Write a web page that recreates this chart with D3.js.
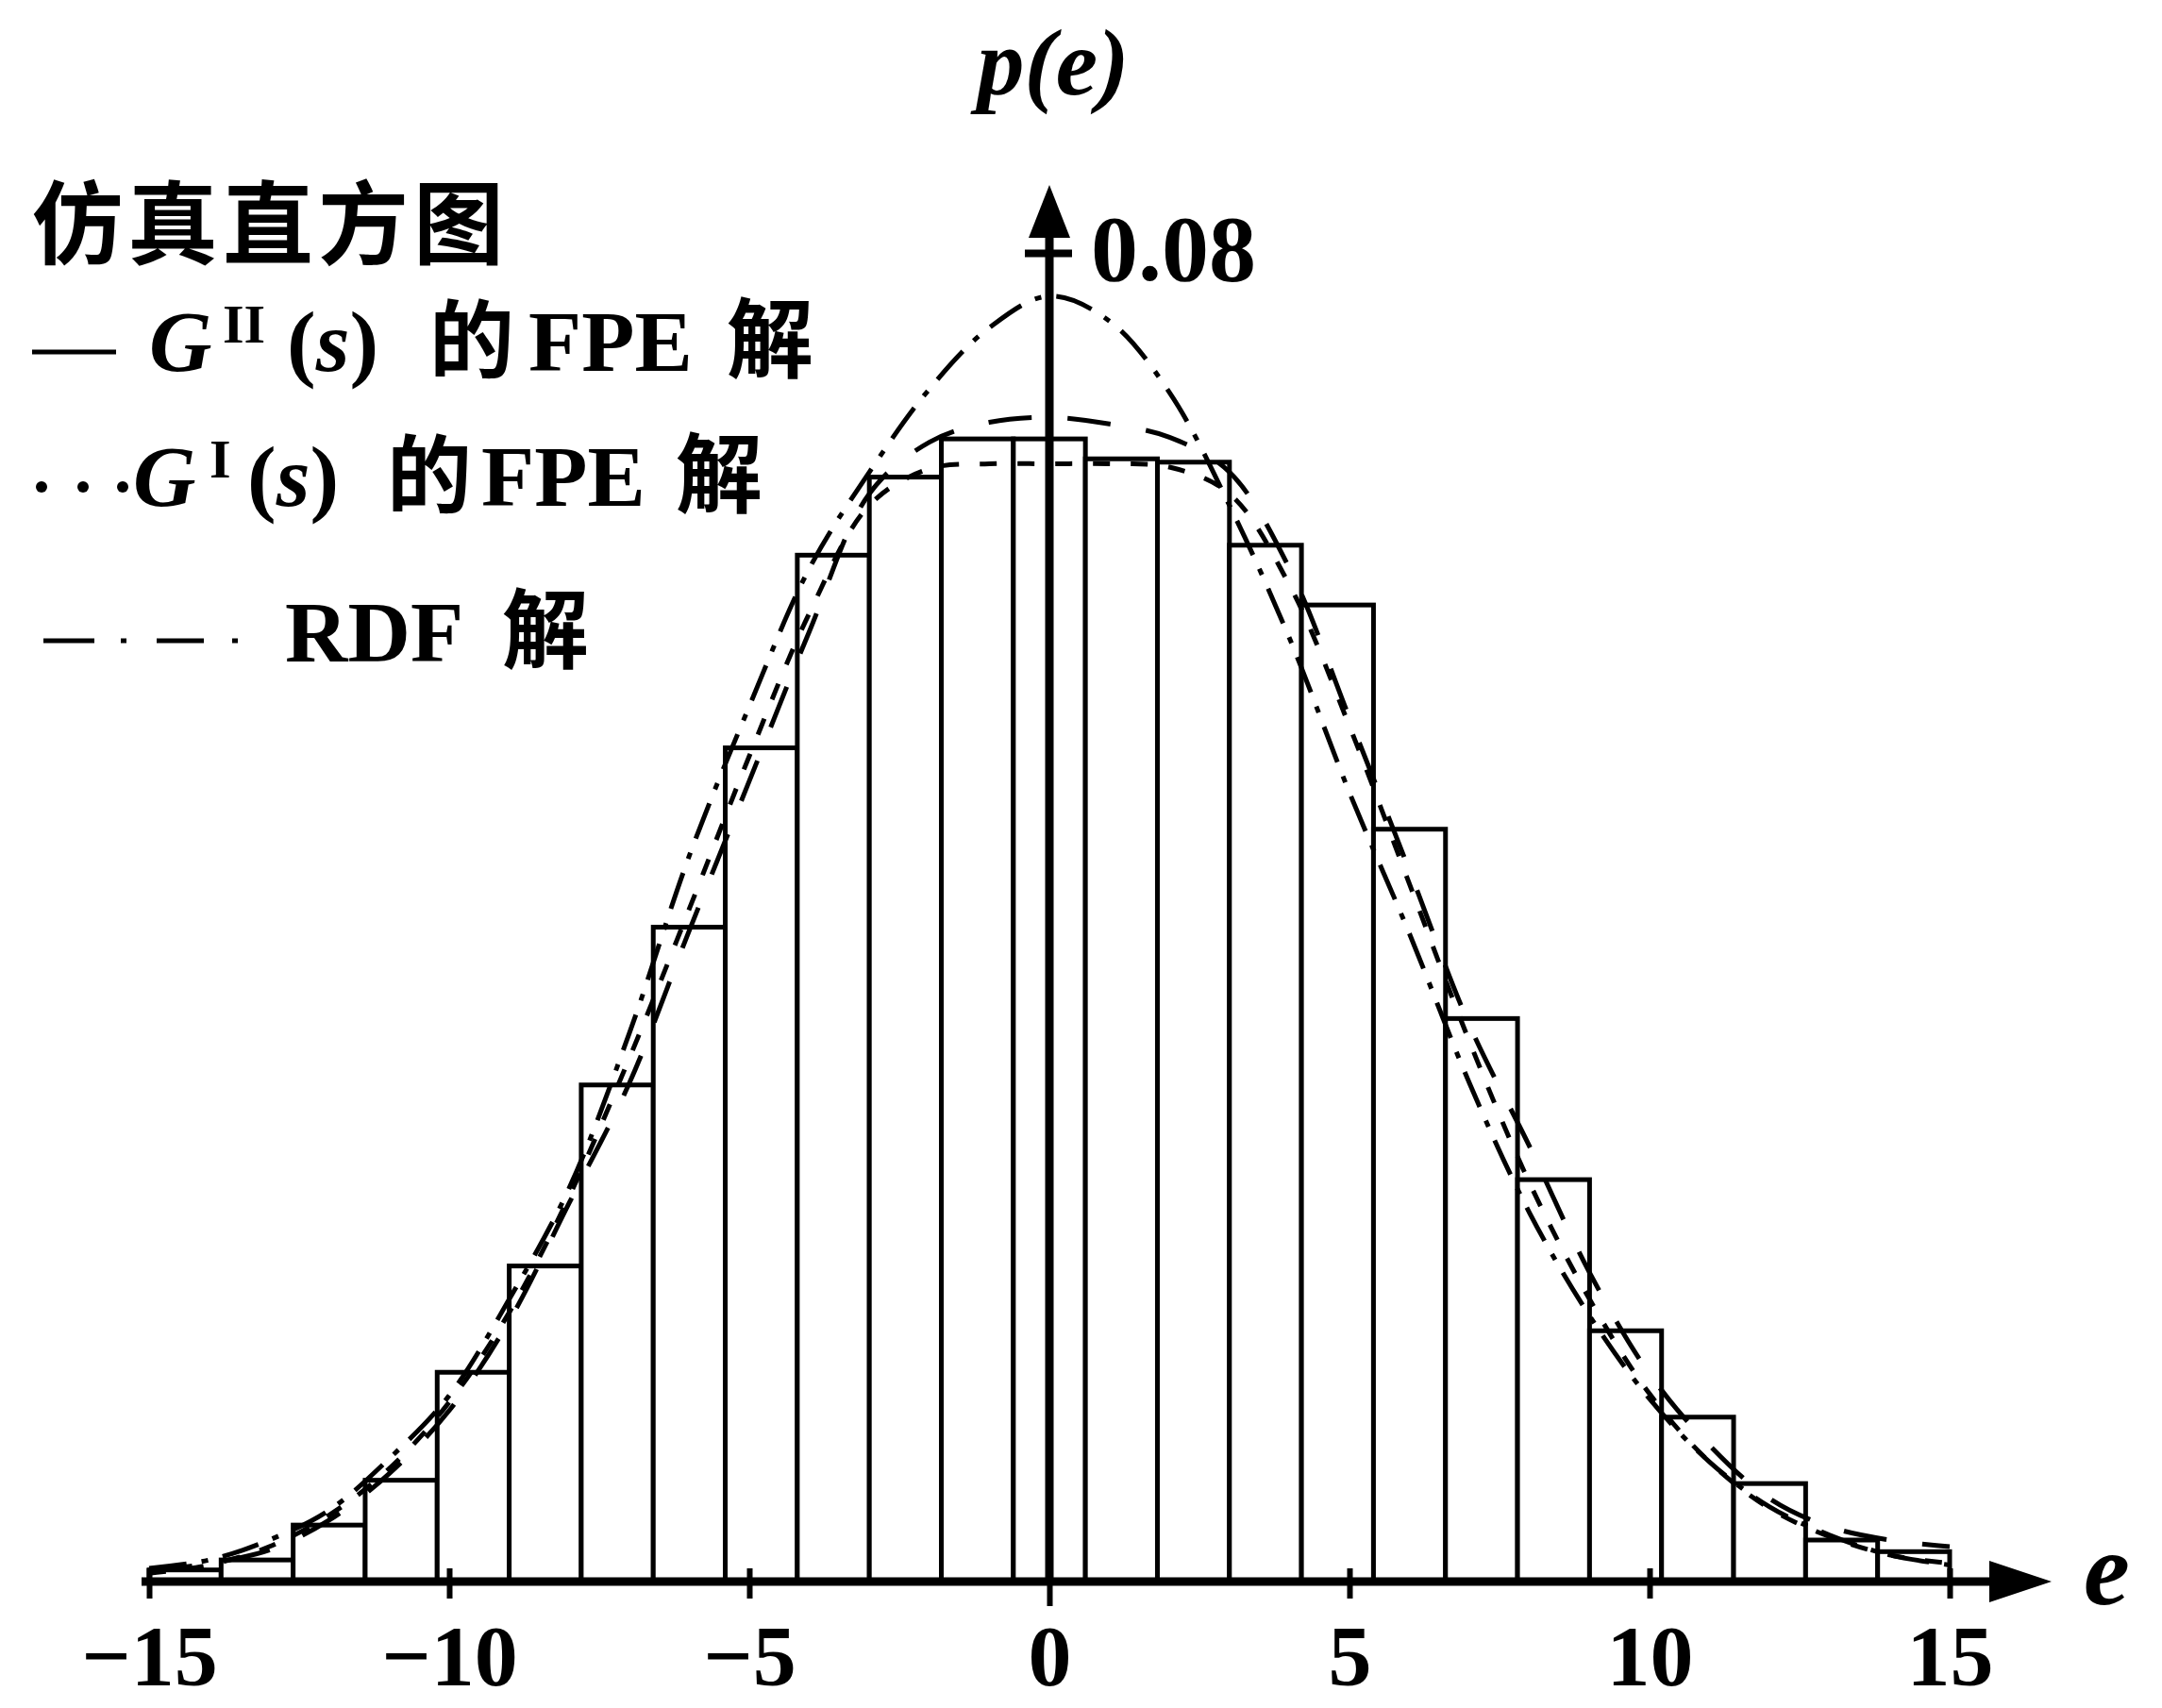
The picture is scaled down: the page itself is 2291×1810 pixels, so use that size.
<!DOCTYPE html>
<html>
<head>
<meta charset="utf-8">
<script src="https://cdn.jsdelivr.net/npm/d3@7"></script>
<style>
  html, body { margin: 0; padding: 0; background: #fff; }
  svg { display: block; }
</style>
</head>
<body>
<svg id="chart" width="2291" height="1810"></svg>
<script>
// histogram: left edge of every bin (bin width 1.2) and its height
const binEdges = [-15, -13.8, -12.6, -11.4, -10.2, -9, -7.8, -6.6, -5.4, -4.2, -3, -1.8,
  -0.6, 0.6, 1.8, 3, 4.2, 5.4, 6.6, 7.8, 9, 10.2, 11.4, 12.6, 13.8];
const binWidth = 1.2;
const histValues = [0.0007, 0.0013, 0.0034, 0.0061, 0.0126, 0.0190, 0.0299, 0.0394, 0.0502,
  0.0618, 0.0665, 0.0688, 0.0688, 0.0676, 0.0674, 0.0624, 0.0588, 0.0453, 0.0339, 0.0242,
  0.0151, 0.0099, 0.0059, 0.0025, 0.0018];

// the three solutions, read at e = -15 ... 15
const eValues = [-15, -14, -13, -12, -11, -10, -9, -8, -7, -6, -5, -4, -3, -2, -1, 0,
  1, 2, 3, 4, 5, 6, 7, 8, 9, 10, 11, 12, 13, 14, 15];
const fpeG2 = [0.0006, 0.0011, 0.0019, 0.0037, 0.0065, 0.0103, 0.0157, 0.0228, 0.0300, 0.0392,
  0.0482, 0.0572, 0.0655, 0.0686, 0.0698, 0.0701, 0.0697, 0.0689, 0.0668, 0.0610, 0.0520,
  0.0428, 0.0335, 0.0262, 0.0186, 0.0125, 0.0082, 0.0050, 0.0033, 0.0025, 0.0021];
const fpeG1 = [0.0005, 0.0010, 0.0021, 0.0040, 0.0068, 0.0108, 0.0162, 0.0232, 0.0315, 0.0405,
  0.0497, 0.0583, 0.0648, 0.0670, 0.0673, 0.0673, 0.0673, 0.0671, 0.0655, 0.0600, 0.0515,
  0.0420, 0.0325, 0.0240, 0.0170, 0.0113, 0.0072, 0.0044, 0.0027, 0.0016, 0.0011];
const rdf = [0.0008, 0.0013, 0.0025, 0.0043, 0.0074, 0.0112, 0.0170, 0.0237, 0.0330, 0.0437,
  0.0527, 0.0610, 0.0668, 0.0718, 0.0755, 0.0774, 0.0759, 0.0716, 0.0648, 0.0568, 0.0475,
  0.0390, 0.0300, 0.0222, 0.0160, 0.0110, 0.0072, 0.0045, 0.0028, 0.0016, 0.0010];

const xTicks = [-15, -10, -5, 0, 5, 10, 15];
const xTickLabels = ["\u221215", "\u221210", "\u22125", "0", "5", "10", "15"];
const yTicks = [0.08];
const yTickLabels = ["0.08"];

const serif = "'Liberation Serif', 'DejaVu Serif', serif";
const cjk = "'Noto Sans CJK SC', sans-serif";

const svg = d3.select("#chart");

let x = d3.scaleLinear().domain([-15, 15]).range([158, 2066]);
let y = d3.scaleLinear().domain([0, 0.08]).range([1676, 268]);

// bars
svg.append("g")
  .selectAll("rect")
  .data(histValues)
  .join("rect")
    .attr("x", (d, i) => x(binEdges[i]))
    .attr("width", (d, i) => x(binEdges[i] + binWidth) - x(binEdges[i]))
    .attr("y", d => y(d))
    .attr("height", d => y(0) - y(d))
    .attr("fill", "#fff")
    .attr("stroke", "#000")
    .attr("stroke-width", 5);

// curves
let line = d3.line()
  .x((d, i) => x(eValues[i]))
  .y(d => y(d))
  .curve(d3.curveCatmullRom);

const curves = [
  { values: fpeG2, dash: "46 38" },
  { values: fpeG1, dash: "18 22" },
  { values: rdf, dash: "40 16 7 16" }
];
svg.append("g")
  .selectAll("path")
  .data(curves)
  .join("path")
    .attr("d", d => line(d.values))
    .attr("fill", "none")
    .attr("stroke", "#000")
    .attr("stroke-width", 5)
    .attr("stroke-dasharray", d => d.dash);

// x axis
let xAxis = svg.append("g")
  .attr("transform", "translate(0," + y(0) + ")")
  .call(d3.axisBottom(x).tickValues(xTicks).tickFormat((d, i) => xTickLabels[i]));
xAxis.select(".domain").remove();
xAxis.selectAll(".tick line")
  .attr("y1", -14).attr("y2", d => d === 0 ? 26 : 18)
  .attr("stroke", "#000").attr("stroke-width", 6);
xAxis.selectAll(".tick text")
  .attr("y", 110).attr("dy", 0)
  .attr("fill", "#000")
  .attr("font-family", serif)
  .attr("font-size", 92)
  .attr("font-weight", "bold");

svg.append("line")
  .attr("x1", 150).attr("x2", 2120)
  .attr("y1", y(0)).attr("y2", y(0))
  .attr("stroke", "#000").attr("stroke-width", 9);
svg.append("path")
  .attr("d", `M2108,${y(0) - 22} L2174,${y(0)} L2108,${y(0) + 22} Z`)
  .attr("fill", "#000");

// y axis
let yAxis = svg.append("g")
  .attr("transform", "translate(" + x(0) + ",0)")
  .call(d3.axisLeft(y).tickValues(yTicks).tickFormat((d, i) => yTickLabels[i]));
yAxis.select(".domain").remove();
yAxis.selectAll(".tick line")
  .attr("x1", -26).attr("x2", 24)
  .attr("stroke", "#000").attr("stroke-width", 8);
yAxis.selectAll(".tick text")
  .attr("x", 44).attr("dy", 0).attr("y", 28)
  .attr("text-anchor", "start")
  .attr("fill", "#000")
  .attr("font-family", serif)
  .attr("font-size", 100)
  .attr("font-weight", "bold");

svg.append("line")
  .attr("x1", x(0)).attr("x2", x(0))
  .attr("y1", y(0) + 4).attr("y2", 240)
  .attr("stroke", "#000").attr("stroke-width", 9);
svg.append("path")
  .attr("d", `M${x(0) - 22},252 L${x(0)},196 L${x(0) + 22},252 Z`)
  .attr("fill", "#000");

// axis names
svg.append("text")
  .attr("x", x(0) + 4).attr("y", 100)
  .attr("text-anchor", "middle")
  .attr("font-family", serif).attr("font-size", 100)
  .attr("font-weight", "bold").attr("font-style", "italic")
  .text("p(e)");
svg.append("text")
  .attr("x", 2208).attr("y", 1700)
  .attr("font-family", serif).attr("font-size", 110)
  .attr("font-weight", "bold").attr("font-style", "italic")
  .text("e");

// legend
let legend = svg.append("g").attr("fill", "#000");

legend.append("text")
  .attr("x", 34).attr("y", 272)
  .attr("font-family", cjk).attr("font-size", 96).attr("font-weight", "bold")
  .attr("letter-spacing", 5)
  .text("仿真直方图");

function entry(baseline, supText, pos) {
  let t = legend.append("text").attr("y", baseline).attr("font-weight", "bold");
  t.append("tspan").attr("x", pos.g).attr("font-family", serif).attr("font-size", 92)
    .attr("font-style", "italic").text("G");
  t.append("tspan").attr("x", pos.sup).attr("y", baseline - 30).attr("font-family", serif)
    .attr("font-size", 58).text(supText);
  t.append("tspan").attr("x", pos.paren).attr("y", baseline).attr("font-family", serif)
    .attr("font-size", 92).text("(");
  t.append("tspan").attr("font-family", serif).attr("font-size", 92)
    .attr("font-style", "italic").text("s");
  t.append("tspan").attr("font-family", serif).attr("font-size", 92).text(")");
  t.append("tspan").attr("x", pos.de).attr("font-family", cjk).attr("font-size", 90).text("的");
  t.append("tspan").attr("x", pos.fpe).attr("font-family", serif).attr("font-size", 92).text("FPE");
  t.append("tspan").attr("x", pos.jie).attr("font-family", cjk).attr("font-size", 92).text("解");
}

// row 2: solid sample
legend.append("line")
  .attr("x1", 34).attr("x2", 123).attr("y1", 373).attr("y2", 373)
  .attr("stroke", "#000").attr("stroke-width", 5);
entry(393, "II", { g: 158, sup: 236, paren: 304, de: 455, fpe: 560, jie: 770 });

// row 3: dotted sample
legend.selectAll("circle.dot")
  .data([44, 88, 130])
  .join("circle")
    .attr("class", "dot")
    .attr("cx", d => d).attr("cy", 516).attr("r", 6);
entry(536, "I", { g: 141, sup: 222, paren: 262, de: 410, fpe: 510, jie: 716 });

// row 4: dash-dot sample
legend.append("line")
  .attr("x1", 46).attr("x2", 252).attr("y1", 679).attr("y2", 679)
  .attr("stroke", "#000").attr("stroke-width", 5)
  .attr("stroke-dasharray", "54 28 6 32 50 30 6 100");
legend.append("text")
  .attr("y", 701).attr("font-weight", "bold")
  .call(t => {
    t.append("tspan").attr("x", 302).attr("font-family", serif).attr("font-size", 92).text("RDF");
    t.append("tspan").attr("x", 532).attr("font-family", cjk).attr("font-size", 92).text("解");
  });
</script>
</body>
</html>
